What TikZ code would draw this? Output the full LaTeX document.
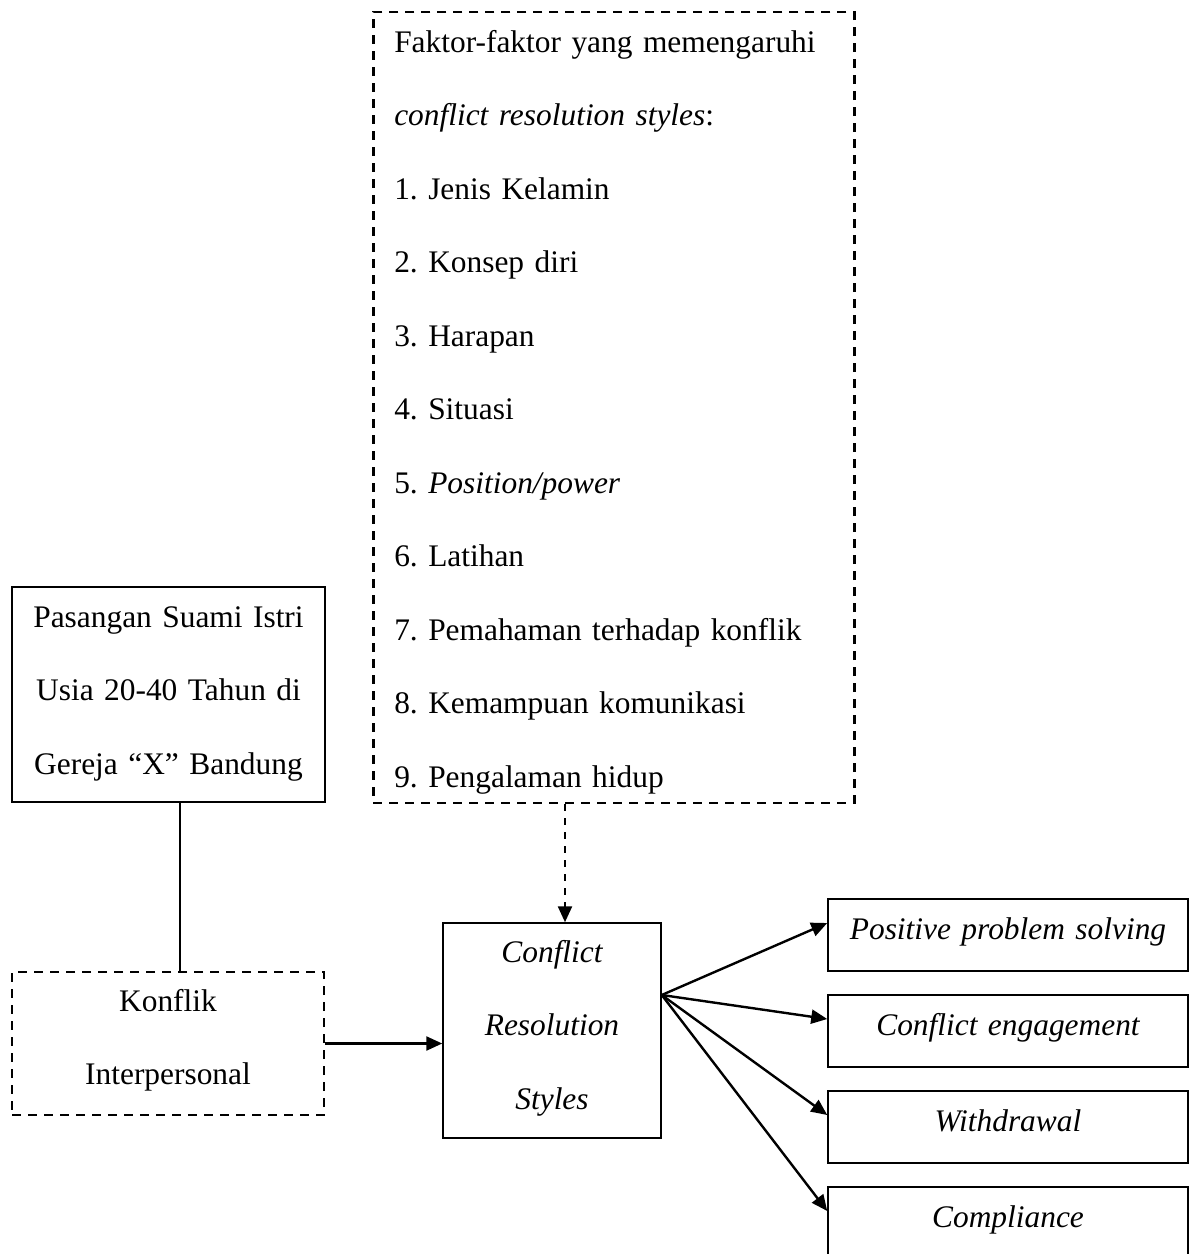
\documentclass[tikz,border=0pt]{standalone}
\usepackage{fontspec}
\setmainfont{Liberation Serif}
\usetikzlibrary{arrows.meta}

\begin{document}
\begin{tikzpicture}[x=0.5pt, y=-0.5pt, >={Triangle[length=8pt,width=7pt]},
    box/.style={draw, line width=0.75pt, inner sep=0pt, align=center, anchor=base,
      font=\fontsize{15.7}{36.75}\selectfont\frenchspacing},
    ital/.style={font=\fontsize{15.7}{36.75}\selectfont\frenchspacing\itshape},
    dashbox/.style={box, dash pattern=on 4.5pt off 3.5pt},
    link/.style={line width=1.2pt}]
  \useasboundingbox (0,0) rectangle (1196,1254);

  % factors
  \node[dashbox, line width=1.25pt, align=left, anchor=base west, inner xsep=10.5pt,
    text width=219.5pt, text height=20pt, text depth=375.5pt] (faktor) at (372,52)
    {Faktor-faktor yang memengaruhi\\
     \textit{conflict resolution styles}:\\
     1. Jenis Kelamin\\
     2. Konsep diri\\
     3. Harapan\\
     4. Situasi\\
     5. \textit{Position/power}\\
     6. Latihan\\
     7. Pemahaman terhadap konflik\\
     8. Kemampuan komunikasi\\
     9. Pengalaman hidup};

  \node[box, text width=156.5pt, text height=20pt, text depth=87.5pt] (pasangan) at (168.5,627)
    {Pasangan Suami Istri\\ Usia 20-40 Tahun di\\ Gereja “X” Bandung};
  \node[dashbox, text width=156pt, text height=19.5pt, text depth=52pt] (konflik) at (168,1011)
    {Konflik\\ Interpersonal};
  \node[box, ital, text width=109pt, text height=19.5pt, text depth=88pt] (crs) at (552,962)
    {Conflict\\ Resolution\\ Styles};

  % styles
  \foreach \name/\txt [count=\i from 0] in {posit/Positive problem solving,
      engage/Conflict engagement, withdr/Withdrawal, compl/Compliance}
    \node[box, ital, text width=180pt, text height=20pt, text depth=16pt] (\name)
      at (1008,939+96*\i) {\txt};

  \draw[line width=0.75pt] ([xshift=5.75pt]pasangan.south) -- ([xshift=5.75pt]pasangan.south |- konflik.north);
  \draw[link, ->] (konflik.east) -- (konflik.east -| crs.west);
  \draw[link, ->, dash pattern=on 3.5pt off 3.5pt] ([xshift=6.5pt]crs.north |- faktor.south) -- ([xshift=6.5pt]crs.north);

  \coordinate (fan) at ([yshift=17.75pt]crs.east);
  \foreach \name in {posit, engage, withdr, compl}
    \draw[link, ->] (fan) -- ([yshift=6pt]\name.west);
\end{tikzpicture}
\end{document}
